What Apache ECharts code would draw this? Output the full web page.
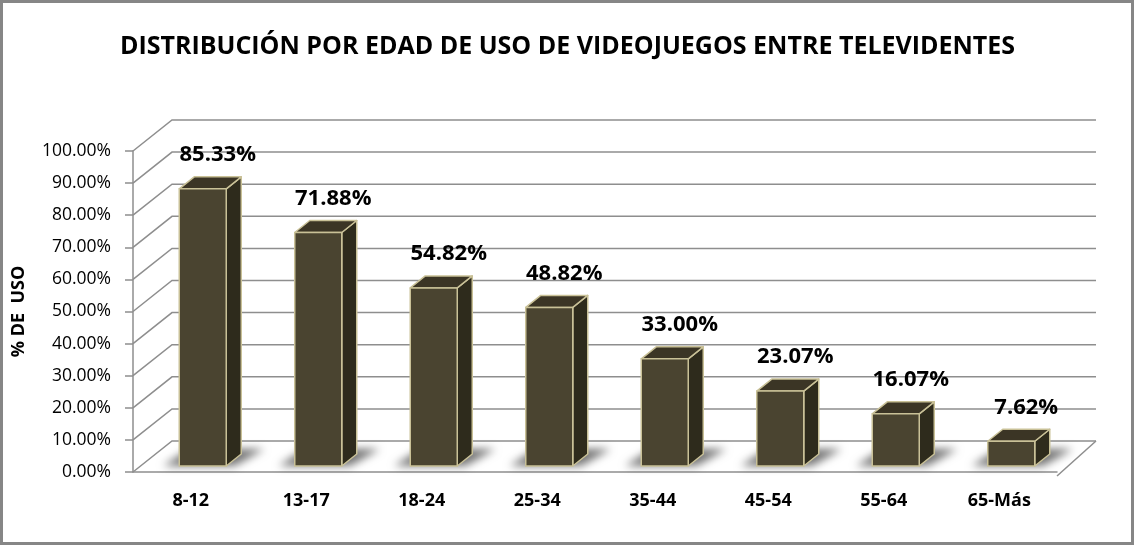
<!DOCTYPE html>
<html>
<head>
<meta charset="utf-8">
<script src="https://cdn.jsdelivr.net/npm/echarts@6/dist/echarts.min.js"></script>
<style>
  html, body { margin: 0; padding: 0; background: #fff; }
  #chart { width: 1135px; height: 546px; }
</style>
</head>
<body>
<div id="chart"></div>
<script>
// datos
var categories = ['8-12', '13-17', '18-24', '25-34', '35-44', '45-54', '55-64', '65-Más'];
var usage = [85.33, 71.88, 54.82, 48.82, 33.00, 23.07, 16.07, 7.62];
var yTicks = [0, 10, 20, 30, 40, 50, 60, 70, 80, 90, 100];

var FONT = '"Open Sans", "Noto Sans", sans-serif';
var DEPTH_X = 39, DEPTH_Y = 31;   // profundidad de la pared del fondo
var GRID_COLOR = '#8e8e8e';
var OFF = 3000;                   // la sombra se dibuja fuera y se trae con shadowOffset

// lineas de la pared izquierda, fondo y piso
function renderWall (params, api) {
    var v = api.value(0);
    var band = api.size([1, 0])[0];
    var pLeft = api.coord([0, v]);
    var pRight = api.coord([categories.length - 1, v]);
    var left = pLeft[0] - band / 2;
    var right = pRight[0] + band / 2;
    var y = pLeft[1];
    var children = [{
        type: 'polyline',
        shape: { points: [[left, y], [left + DEPTH_X, y - DEPTH_Y], [right + DEPTH_X, y - DEPTH_Y]] },
        style: { stroke: GRID_COLOR, lineWidth: 1.5, fill: null }
    }];
    if (v === 0) {
        children.push({
            type: 'line',
            shape: { x1: right, y1: y + 4, x2: right + DEPTH_X, y2: y - DEPTH_Y },
            style: { stroke: GRID_COLOR, lineWidth: 1.5 }
        });
    }
    return { type: 'group', children: children };
}

// barra 3d con sombra y etiqueta
function renderBar (params, api) {
    var idx = api.value(0);
    var val = api.value(1);
    var c = api.coord([idx, val]);
    var c0 = api.coord([idx, 0]);
    var bw = 47, dx = 15, dy = 12;
    var base = c0[1] - 6;
    var top = base - (c0[1] - c[1]) * 1.012;
    var x0 = c0[0] + 12 - bw / 2;
    var x1 = x0 + bw;
    var edge = { stroke: '#c9c197', lineWidth: 1.5, lineJoin: 'round' };
    return {
        type: 'group',
        children: [{
            type: 'polygon',
            shape: { points: [
                [x0 - 16 - OFF, base], [x1 + 8 - OFF, base],
                [x1 + 38 - OFF, base - 17], [x0 + 10 - OFF, base - 17]
            ] },
            style: {
                fill: '#000',
                shadowColor: 'rgba(0,0,0,0.55)',
                shadowBlur: 9,
                shadowOffsetX: OFF,
                shadowOffsetY: 0
            },
            silent: true
        }, {
            type: 'polygon',
            shape: { points: [[x1, top], [x1 + dx, top - dy], [x1 + dx, base - dy], [x1, base]] },
            style: Object.assign({ fill: '#2e2b1c' }, edge)
        }, {
            type: 'polygon',
            shape: { points: [[x0, top], [x0 + dx, top - dy], [x1 + dx, top - dy], [x1, top]] },
            style: Object.assign({ fill: '#3b3525' }, edge)
        }, {
            type: 'rect',
            shape: { x: x0, y: top, width: bw, height: base - top },
            style: Object.assign({ fill: '#4a4430' }, edge)
        }, {
            type: 'text',
            x: x0 + bw / 2 + 15,
            y: top - 34,
            style: {
                text: val.toFixed(2) + '%',
                fill: '#000',
                font: 'bold 22px ' + FONT,
                align: 'center',
                verticalAlign: 'middle'
            }
        }]
    };
}

var chart = echarts.init(document.getElementById('chart'));
chart.setOption({
    animation: false,
    backgroundColor: '#fff',
    title: {
        text: 'DISTRIBUCIÓN POR EDAD DE USO DE VIDEOJUEGOS ENTRE TELEVIDENTES',
        left: 'center',
        top: 29,
        textStyle: { fontFamily: FONT, fontSize: 25, fontWeight: 'bold', color: '#000' }
    },
    graphic: [{
        type: 'rect',
        shape: { x: 1.5, y: 1.5, width: 1131, height: 542 },
        style: { fill: null, stroke: '#868686', lineWidth: 3 },
        z: 100
    }],
    grid: { left: 133, right: 78, top: 151, bottom: 74 },
    xAxis: {
        type: 'category',
        data: categories,
        axisLine: { lineStyle: { color: GRID_COLOR, width: 1.5 } },
        axisTick: { length: 7, lineStyle: { color: GRID_COLOR, width: 1.5 } },
        axisLabel: { margin: 20, color: '#000', fontFamily: FONT, fontSize: 18, fontWeight: 'bold' }
    },
    yAxis: {
        type: 'value',
        min: 0,
        max: 100,
        interval: 10,
        name: '% DE  USO',
        nameLocation: 'middle',
        nameGap: 105,
        nameTextStyle: { color: '#000', fontFamily: FONT, fontSize: 18, fontWeight: 'bold' },
        axisLine: { show: true, lineStyle: { color: GRID_COLOR, width: 1.5 } },
        axisTick: { show: true, length: 8, lineStyle: { color: GRID_COLOR, width: 1.5 } },
        splitLine: { show: false },
        axisLabel: {
            margin: 22,
            color: '#000',
            fontFamily: FONT,
            fontSize: 17.5,
            formatter: function (v) { return v.toFixed(2) + '%'; }
        }
    },
    series: [{
        type: 'custom',
        renderItem: renderWall,
        data: yTicks.map(function (v) { return [v]; }),
        encode: { y: 0 },
        silent: true,
        z: 1
    }, {
        type: 'custom',
        renderItem: renderBar,
        data: usage.map(function (v, i) { return [i, v]; }),
        encode: { x: 0, y: 1 },
        z: 3
    }]
});
</script>
</body>
</html>
